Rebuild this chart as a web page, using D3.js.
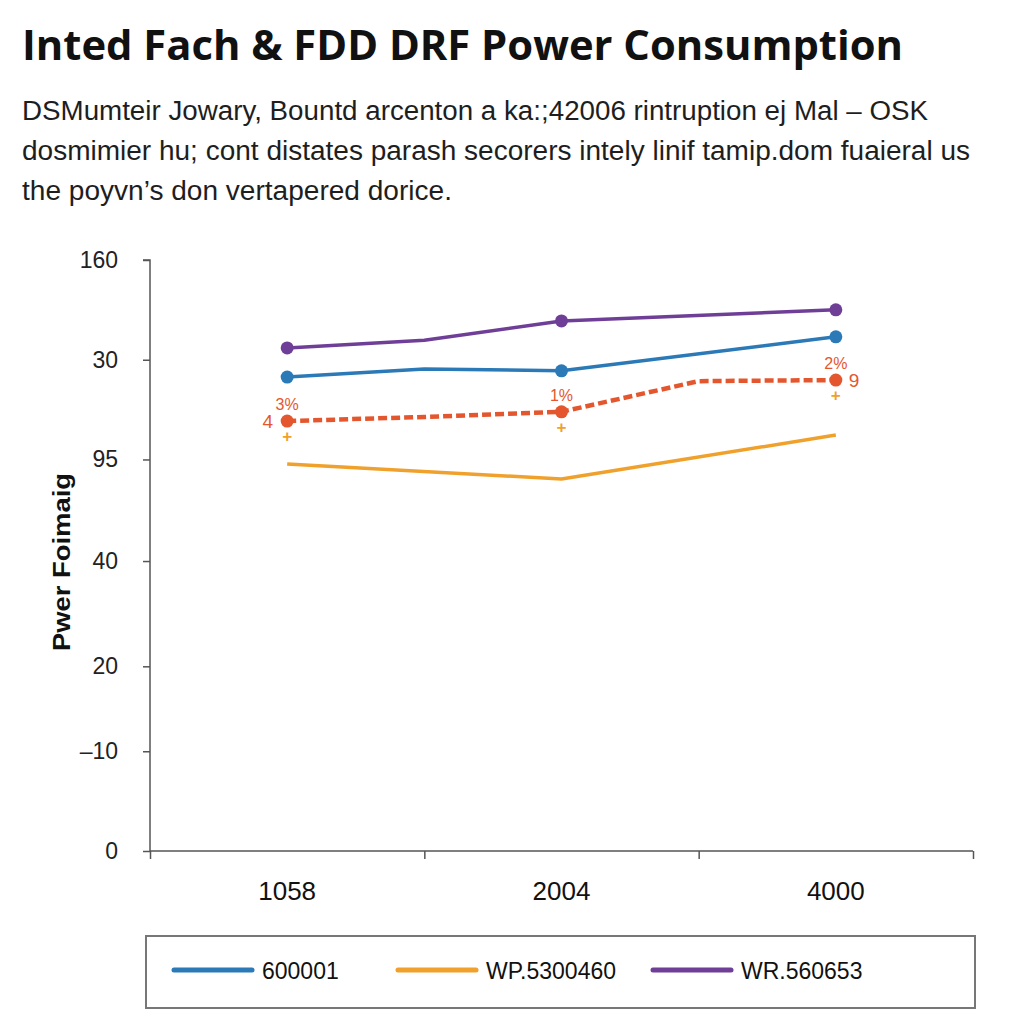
<!DOCTYPE html>
<html><head><meta charset="utf-8">
<script src="https://cdn.jsdelivr.net/npm/d3@7/dist/d3.min.js"></script>
<style>body{margin:0;background:#fff}svg{display:block}</style>
</head><body>
<script>
// ---- data ----
const title = "Inted Fach & FDD DRF Power Consumption";
const subtitleLines = [
  "DSMumteir Jowary, Bountd arcenton a ka:;42006 rintruption ej Mal – OSK",
  "dosmimier hu; cont distates parash secorers intely linif tamip.dom fuaieral us",
  "the poyvn’s don vertapered dorice."
];
const yAxisTitle = "Pwer Foimaig";
const categories = ["1058", "2004", "4000"];
// y tick positions (underlying scale) and their printed labels
const yTickPositions = [0, 27, 50, 78.5, 106, 133, 160];
const yTickLabels = ["0", "–10", "20", "40", "95", "30", "160"];
// x positions of vertices in band units (0.5 = first category centre)
const purpleX = [0.5, 1, 1.5, 2.5];
const purpleY = [136.2, 138.3, 143.5, 146.5];
const blueX = [0.5, 1, 1.5, 2.5];
const blueY = [128.3, 130.5, 130.0, 139.2];
const redX = [0.5, 1, 1.5, 2, 2.5];
const redY = [116.4, 117.5, 118.9, 127.2, 127.5];
const orangeX = [0.5, 1.5, 2.5];
const orangeY = [104.8, 100.7, 112.6];
const markerX = [0.5, 1.5, 2.5];
const redLabels = ["3%", "1%", "2%"];
const legendNames = ["600001", "WP.5300460", "WR.560653"];

// ---- layout ----
const W = 1024, H = 1024;
const svg = d3.select("body").append("svg").attr("width", W).attr("height", H);
const colors = {blue: "#2b7ab7", orange: "#f0a12c", purple: "#6f3f98", red: "#e4572e"};
const FONT = "Liberation Sans, Arial, sans-serif";

svg.append("text").attr("x", 22).attr("y", 60)
  .attr("font-family", "Open Sans, Noto Sans, sans-serif").attr("font-weight", 700)
  .attr("font-size", 42).attr("fill", "#111")
  .attr("textLength", 881).attr("lengthAdjust", "spacingAndGlyphs").text(title);

const subLen = [906, 948, 430];
subtitleLines.forEach((t, i) => {
  svg.append("text").attr("x", 22).attr("y", 120 + i * 40)
    .attr("font-family", FONT).attr("font-size", 27)
    .attr("fill", "#1e1e1e")
    .attr("textLength", subLen[i]).attr("lengthAdjust", "spacingAndGlyphs").text(t);
});

const x = d3.scaleLinear().domain([0, 3]).range([150, 973]);
const y = d3.scaleLinear().domain([0, 160]).range([851, 260]);

// y axis
const yAxis = d3.axisLeft(y).tickValues(yTickPositions)
  .tickFormat((d, i) => yTickLabels[i]).tickSize(7).tickPadding(25);
const gy = svg.append("g").attr("transform", "translate(150,0)").call(yAxis);
gy.select(".domain").attr("stroke", "#555").attr("stroke-width", 1.5)
  .attr("d", "M-7," + y(160) + "H0V" + y(0));
gy.selectAll(".tick line").attr("stroke", "#555").attr("stroke-width", 1.5);
gy.selectAll(".tick text").attr("font-family", FONT)
  .attr("font-size", 23).attr("fill", "#222");

// x axis
const xAxis = d3.axisBottom(x).tickValues([0, 1, 2, 3]).tickFormat("").tickSize(8);
const gx = svg.append("g").attr("transform", "translate(0,851)").call(xAxis);
gx.select(".domain").attr("stroke", "#555").attr("stroke-width", 1.5).attr("d", "M150,0H973");
gx.selectAll(".tick line").attr("stroke", "#555").attr("stroke-width", 1.5);
categories.forEach((c, i) => {
  svg.append("text").attr("x", x(i + 0.5)).attr("y", 900).attr("text-anchor", "middle")
    .attr("font-family", FONT).attr("font-size", 26)
    .attr("fill", "#111").text(c);
});

// y axis title
svg.append("text").attr("transform", "translate(70,562) rotate(-90)")
  .attr("text-anchor", "middle").attr("font-family", FONT)
  .attr("font-weight", 700).attr("font-size", 24).attr("fill", "#111")
  .attr("textLength", 178).attr("lengthAdjust", "spacingAndGlyphs").text(yAxisTitle);

const line = d3.line().x(d => x(d[0])).y(d => y(d[1]));
function series(xs, ys, color, dash, markers) {
  const pts = xs.map((v, i) => [v, ys[i]]);
  svg.append("path").datum(pts).attr("d", line).attr("fill", "none")
    .attr("stroke", color).attr("stroke-width", dash ? 4.5 : 3.5)
    .attr("stroke-dasharray", dash || null).attr("stroke-linejoin", "round");
  if (markers) {
    svg.selectAll(null).data(pts.filter(p => markerX.includes(p[0]))).enter()
      .append("circle").attr("cx", d => x(d[0])).attr("cy", d => y(d[1]))
      .attr("r", 6.5).attr("fill", color);
  }
}
series(orangeX, orangeY, colors.orange, null, false);
series(redX, redY, colors.red, "9,4", true);
series(blueX, blueY, colors.blue, null, true);
series(purpleX, purpleY, colors.purple, null, true);

// red annotations & orange plus markers
markerX.forEach((mx, i) => {
  const ry = redY[redX.indexOf(mx)];
  svg.append("text").attr("x", x(mx)).attr("y", y(ry) - 11).attr("text-anchor", "middle")
    .attr("font-family", FONT).attr("font-size", 16)
    .attr("fill", colors.red).text(redLabels[i]);
  svg.append("text").attr("x", x(mx)).attr("y", y(ry) + 21).attr("text-anchor", "middle")
    .attr("font-family", FONT).attr("font-size", 17)
    .attr("font-weight", 700).attr("fill", colors.orange).text("+");
});
svg.append("text").attr("x", x(0.5) - 14).attr("y", y(redY[0]) + 7).attr("text-anchor", "end")
  .attr("font-family", FONT).attr("font-size", 19)
  .attr("fill", colors.red).text("4");
svg.append("text").attr("x", x(2.5) + 13).attr("y", y(redY[4]) + 7)
  .attr("font-family", FONT).attr("font-size", 19)
  .attr("fill", colors.red).text("9");

// legend
svg.append("rect").attr("x", 146).attr("y", 936).attr("width", 829).attr("height", 72)
  .attr("fill", "#fff").attr("stroke", "#777").attr("stroke-width", 2);
const legColors = [colors.blue, colors.orange, colors.purple];
const legX = [174, 398, 653];
legendNames.forEach((n, i) => {
  svg.append("line").attr("x1", legX[i]).attr("x2", legX[i] + 78).attr("y1", 970).attr("y2", 970)
    .attr("stroke", legColors[i]).attr("stroke-width", 5).attr("stroke-linecap", "round");
  svg.append("text").attr("x", legX[i] + 88).attr("y", 979)
    .attr("font-family", FONT).attr("font-size", 23)
    .attr("fill", "#111").text(n);
});
</script>
</body></html>
